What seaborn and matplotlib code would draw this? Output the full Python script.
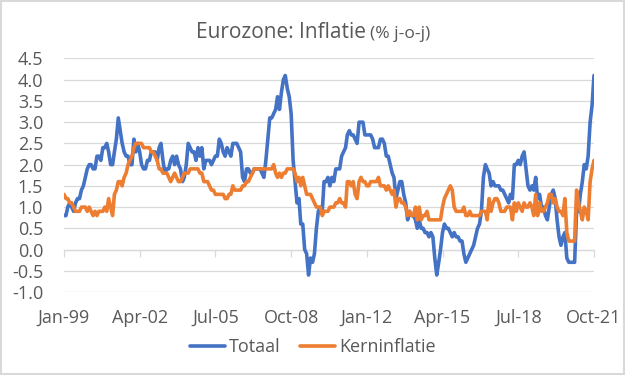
import matplotlib as mpl
mpl.use('Agg')
import matplotlib.pyplot as plt
import matplotlib.dates as mdates
from matplotlib.ticker import FormatStrFormatter
from matplotlib.patches import Rectangle
import pandas as pd
import seaborn as sns

# maandcijfers jan-1999 t/m okt-2021, % j-o-j
totaal = [
    0.8, 0.8, 1.0, 1.1, 1.0, 0.9, 1.1, 1.2, 1.2, 1.4, 1.5, 1.7,      # 1999
    1.9, 2.0, 2.0, 1.9, 1.9, 2.2, 2.2, 2.1, 2.4, 2.4, 2.5, 2.3,      # 2000
    2.0, 2.0, 2.3, 2.6, 3.1, 2.8, 2.5, 2.3, 2.2, 2.2, 2.0, 2.0,      # 2001
    2.6, 2.3, 2.5, 2.3, 2.0, 1.9, 1.9, 2.1, 2.1, 2.3, 2.3, 2.3,      # 2002
    2.1, 2.4, 2.5, 2.1, 1.8, 1.9, 1.9, 2.1, 2.2, 2.0, 2.2, 2.0,      # 2003
    1.9, 1.6, 1.7, 2.0, 2.5, 2.4, 2.3, 2.3, 2.1, 2.4, 2.2, 2.4,      # 2004
    1.9, 2.1, 2.1, 2.1, 2.0, 2.1, 2.2, 2.2, 2.6, 2.5, 2.3, 2.2,      # 2005
    2.4, 2.3, 2.2, 2.5, 2.5, 2.5, 2.4, 2.3, 1.7, 1.6, 1.9, 1.9,      # 2006
    1.8, 1.8, 1.9, 1.9, 1.9, 1.9, 1.8, 1.7, 2.1, 2.6, 3.1, 3.1,      # 2007
    3.2, 3.3, 3.6, 3.3, 3.7, 4.0, 4.1, 3.8, 3.6, 3.2, 2.1, 1.6,      # 2008
    1.1, 1.2, 0.6, 0.6, 0.0, -0.1, -0.6, -0.2, -0.3, -0.1, 0.5, 0.9, # 2009
    1.0, 0.9, 1.6, 1.6, 1.7, 1.5, 1.7, 1.6, 1.9, 1.9, 1.9, 2.2,      # 2010
    2.3, 2.4, 2.7, 2.8, 2.7, 2.7, 2.6, 2.5, 3.0, 3.0, 3.0, 2.7,      # 2011
    2.7, 2.7, 2.7, 2.6, 2.4, 2.4, 2.4, 2.6, 2.6, 2.5, 2.2, 2.2,      # 2012
    2.0, 1.8, 1.7, 1.2, 1.4, 1.6, 1.6, 1.3, 1.1, 0.7, 0.9, 0.8,      # 2013
    0.8, 0.7, 0.5, 0.7, 0.5, 0.5, 0.4, 0.4, 0.3, 0.4, 0.3, -0.2,     # 2014
    -0.6, -0.3, 0.0, 0.4, 0.6, 0.5, 0.5, 0.4, 0.3, 0.4, 0.3, 0.3,    # 2015
    0.2, 0.2, -0.1, -0.3, -0.2, -0.1, 0.0, 0.1, 0.3, 0.5, 0.6, 0.9,  # 2016
    1.7, 2.0, 1.9, 1.8, 1.5, 1.6, 1.5, 1.5, 1.5, 1.4, 1.4, 1.3,      # 2017
    1.2, 1.1, 1.3, 1.2, 2.0, 2.0, 2.1, 2.0, 2.2, 2.3, 1.9, 1.5,      # 2018
    1.4, 1.5, 1.4, 1.7, 1.2, 1.3, 1.0, 1.0, 0.8, 0.7, 1.0, 1.3,      # 2019
    1.4, 1.2, 0.7, 0.3, 0.1, 0.3, 0.4, -0.2, -0.3, -0.3, -0.3, -0.3, # 2020
    0.9, 0.9, 1.3, 1.6, 2.0, 1.9, 2.2, 3.0, 3.4, 4.1,                # 2021
]

kern = [
    1.3, 1.2, 1.2, 1.1, 1.1, 1.0, 0.9, 0.9, 0.9, 1.0, 1.0, 1.0,  # 1999
    0.9, 1.0, 0.9, 0.8, 0.9, 0.8, 0.9, 0.9, 0.9, 1.0, 0.9, 1.2,  # 2000
    1.0, 0.8, 1.3, 1.4, 1.6, 1.6, 1.5, 1.7, 1.8, 2.0, 2.1, 2.2,  # 2001
    2.4, 2.5, 2.5, 2.5, 2.5, 2.4, 2.4, 2.4, 2.4, 2.3, 2.3, 2.2,  # 2002
    2.1, 1.9, 1.9, 1.8, 1.8, 1.8, 1.7, 1.6, 1.7, 1.8, 1.7, 1.6,  # 2003
    1.6, 1.7, 1.8, 1.8, 1.8, 1.9, 1.9, 1.9, 1.9, 1.9, 1.8, 1.8,  # 2004
    1.6, 1.6, 1.6, 1.5, 1.4, 1.4, 1.3, 1.3, 1.3, 1.3, 1.3, 1.2,  # 2005
    1.2, 1.3, 1.3, 1.5, 1.4, 1.4, 1.4, 1.4, 1.5, 1.5, 1.6, 1.6,  # 2006
    1.7, 1.8, 1.9, 1.9, 1.9, 1.9, 1.9, 1.9, 1.9, 1.9, 1.9, 1.9,  # 2007
    2.0, 1.8, 1.7, 1.8, 1.7, 1.8, 1.8, 1.9, 1.9, 1.9, 1.9, 1.8,  # 2008
    1.6, 1.7, 1.5, 1.7, 1.5, 1.3, 1.3, 1.3, 1.2, 1.1, 1.0, 1.0,  # 2009
    1.0, 0.8, 0.9, 0.9, 0.9, 1.0, 1.0, 1.0, 1.1, 1.1, 1.2, 1.1,  # 2010
    1.1, 1.0, 1.6, 1.6, 1.5, 1.6, 1.3, 1.2, 1.6, 1.7, 1.6, 1.6,  # 2011
    1.5, 1.5, 1.6, 1.6, 1.6, 1.6, 1.7, 1.5, 1.5, 1.5, 1.4, 1.5,  # 2012
    1.4, 1.3, 1.4, 1.0, 1.2, 1.2, 1.1, 1.1, 1.0, 0.8, 0.9, 0.8,  # 2013
    0.8, 1.0, 0.7, 1.0, 0.7, 0.8, 0.8, 0.9, 0.7, 0.7, 0.7, 0.7,  # 2014
    0.7, 0.7, 0.7, 1.0, 1.2, 1.3, 1.4, 1.5, 1.4, 1.0, 0.9, 0.9,  # 2015
    0.9, 0.9, 1.0, 0.8, 0.8, 0.9, 0.8, 0.8, 0.8, 0.8, 0.8, 0.9,  # 2016
    0.9, 0.9, 0.7, 1.2, 0.9, 1.1, 1.2, 1.2, 1.1, 0.9, 0.9, 0.9,  # 2017
    1.0, 1.0, 1.0, 0.7, 1.1, 0.9, 1.1, 1.0, 0.9, 1.1, 1.0, 1.0,  # 2018
    1.1, 1.0, 0.8, 1.3, 0.8, 1.1, 0.9, 0.9, 1.0, 1.1, 1.3, 1.3,  # 2019
    1.1, 1.2, 1.0, 0.9, 0.9, 0.8, 1.2, 0.4, 0.2, 0.2, 0.2, 0.2,  # 2020
    1.4, 1.1, 0.9, 0.7, 1.0, 0.9, 0.7, 1.6, 1.9, 2.1,            # 2021
]

series_names = ['Totaal', 'Kerninflatie']
series_colors = ['#4472C4', '#ED7D31']
first_month = '1999-01-01'
y_ticks = [-1.0, -0.5, 0.0, 0.5, 1.0, 1.5, 2.0, 2.5, 3.0, 3.5, 4.0, 4.5]
title_main = 'Eurozone: Inflatie'
title_sub = '(% j-o-j)'


def make_frame():
    months = pd.date_range(first_month, periods=len(totaal), freq='MS')
    df = pd.DataFrame({'maand': months, series_names[0]: totaal, series_names[1]: kern})
    return df.melt(id_vars='maand', var_name='reeks', value_name='inflatie'), months


def setup_figure():
    sns.set_theme(style='white')
    plt.rcParams['font.family'] = ['Open Sans', 'DejaVu Sans']
    plt.rcParams['axes.unicode_minus'] = False
    grey = '#595959'
    grid = '#d9d9d9'

    fig = plt.figure(figsize=(6.25, 3.75), dpi=100)
    ax = fig.add_axes([64 / 625, 1 - 292 / 375, 530 / 625, 233.5 / 375])

    df, months = make_frame()
    sns.lineplot(data=df, x='maand', y='inflatie', hue='reeks', hue_order=series_names,
                 palette=series_colors, linewidth=2.6, ax=ax)

    ax.set_xlim(months[0], months[-1])
    ax.set_ylim(y_ticks[0], y_ticks[-1])
    ax.set_yticks(y_ticks)
    ax.yaxis.set_major_formatter(FormatStrFormatter('%.1f'))
    ax.yaxis.grid(True, color=grid, linewidth=0.9)
    ax.xaxis.grid(False)
    for s in ax.spines.values():
        s.set_visible(False)
    ax.set_xlabel('')
    ax.set_ylabel('')

    # x labels every 39 months, shown below the plot area
    ticks = pd.date_range(first_month, months[-1], freq='39MS')
    ax.set_xticks(ticks)
    ax.xaxis.set_major_formatter(mdates.DateFormatter('%b-%y'))
    ax.tick_params(axis='x', length=0, pad=12, labelsize=13, labelcolor=grey)
    ax.tick_params(axis='y', length=0, pad=15, labelsize=13, labelcolor=grey)

    # axis line with tick marks at zero
    zero_frac = (0 - y_ticks[0]) / (y_ticks[-1] - y_ticks[0])
    sec = ax.secondary_xaxis(zero_frac)
    sec.set_xticks(mdates.date2num(ticks))
    sec.tick_params(axis='x', direction='out', length=5, width=0.9, color=grid, labelbottom=False)
    sec.spines['bottom'].set_color(grid)
    sec.spines['bottom'].set_linewidth(0.9)

    handles, labels = ax.get_legend_handles_labels()
    ax.get_legend().remove()
    fig.legend(handles, labels, loc='center', bbox_to_anchor=(0.5, 1 - 347 / 375), ncol=2,
               frameon=False, fontsize=13, labelcolor=grey, handlelength=1.95,
               handletextpad=0.2, columnspacing=1.1)

    fig.text(366 / 625, 1 - 38 / 375, title_main, ha='right', va='baseline', fontsize=15, color=grey)
    fig.text(370 / 625, 1 - 38 / 375, title_sub, ha='left', va='baseline', fontsize=12.5, color=grey)

    fig.patches.append(Rectangle((0.002, 0.003), 0.996, 0.994, transform=fig.transFigure,
                                 fill=False, edgecolor=grid, linewidth=1.5))

    fig.savefig('out.png', dpi=100)


if __name__ == '__main__':
    setup_figure()
